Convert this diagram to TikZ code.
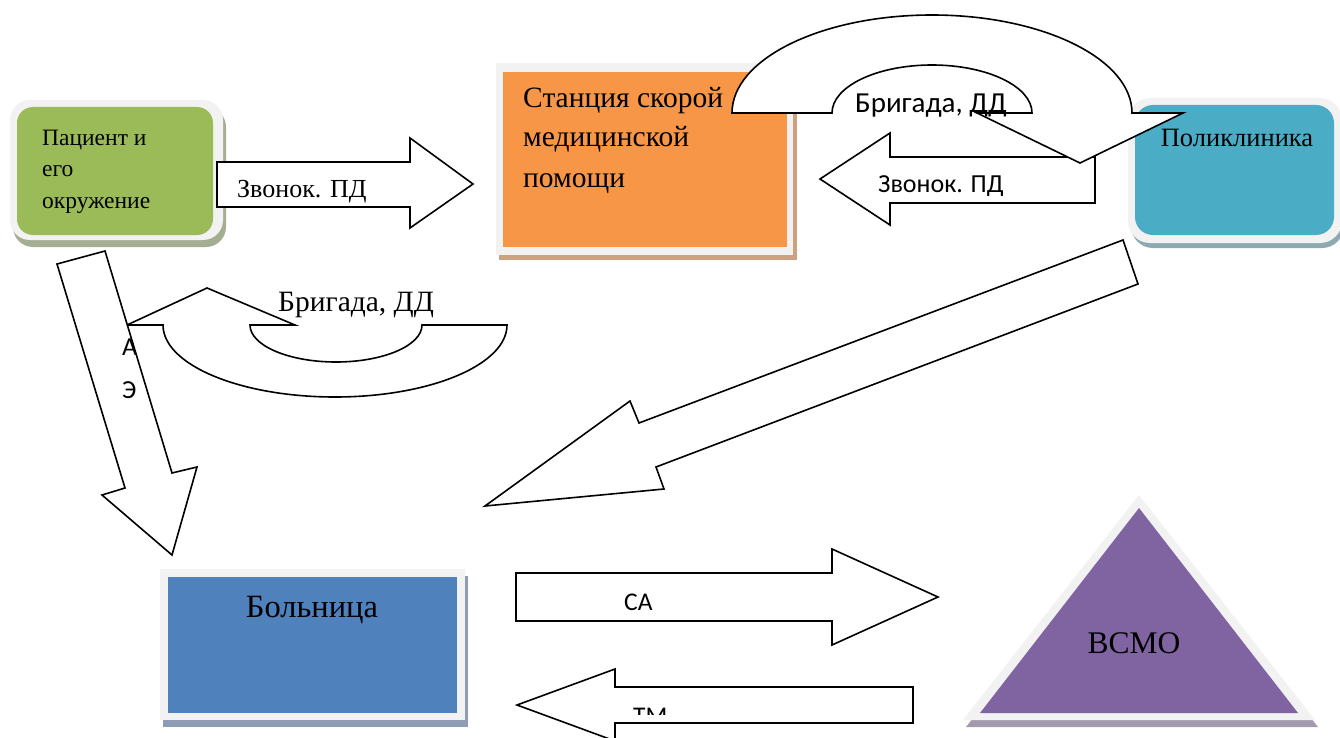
\documentclass[tikz,border=0pt]{standalone}
\usepackage{fontspec}
\setmainfont{Liberation Serif}
\newfontfamily\calibrifont{Carlito}
\usepackage{tikz}
\definecolor{frameg}{HTML}{F2F2F2}
\definecolor{patgreen}{HTML}{9BBB59}
\definecolor{patshadow}{HTML}{A5AE92}
\definecolor{ssmporange}{HTML}{F79646}
\definecolor{ssmpshadow}{HTML}{CFA27F}
\definecolor{clinicteal}{HTML}{4BACC6}
\definecolor{clinicshadow}{HTML}{8BAAB2}
\definecolor{hospblue}{HTML}{4F81BD}
\definecolor{hospshadow}{HTML}{8E9DB4}
\definecolor{vsmopurple}{HTML}{8064A2}
\definecolor{vsmoshadow}{HTML}{A39AAE}

\begin{document}
\begin{tikzpicture}[x=1pt,y=-1pt,
  every node/.style={inner sep=0pt},
  blockarrow/.style={draw=black,fill=white,line width=1.6pt,line join=miter},
  rm/.style={font=\fontsize{#1}{#1}\selectfont},
  sf/.style={font=\calibrifont\fontsize{#1}{#1}\selectfont}]
             \useasboundingbox (0,0) rectangle (1340,738);
             \clip (0,0) rectangle (1340,738);

             \fill[patshadow,rounded corners=20pt] (13,107) rectangle (226,247);
             \fill[frameg,rounded corners=20pt] (10,100) rectangle (223,240);
             \fill[patgreen,rounded corners=16pt] (17,107) rectangle (213,235);

             \fill[ssmpshadow] (499,68) rectangle (797,260);
             \fill[frameg] (496,63) rectangle (793,255);
             \fill[ssmporange] (503,72) rectangle (787,247);

             \fill[clinicshadow,rounded corners=22pt] (1131,104) rectangle (1344,248);
             \fill[frameg,rounded corners=22pt] (1128,98) rectangle (1342,243);
             \fill[clinicteal,rounded corners=18pt] (1135,105) rectangle (1334,235);

             \fill[hospshadow] (163,576) rectangle (468,727);
             \fill[frameg] (160,569) rectangle (465,720);
             \fill[hospblue] (168,577) rectangle (457,713);

             \fill[vsmoshadow] (1142,502) -- (1318,727) -- (966,727) -- cycle;
             \fill[frameg] (1139,495) -- (1315,720) -- (963,720) -- cycle;
             \fill[vsmopurple] (1139,508) -- (1298,713) -- (980,713) -- cycle;

             \node[font=\fontsize{23.5}{31.5}\selectfont,anchor=base west,align=left] (patient) at (42,208) {Пациент и\\его\\окружение};
             \node[font=\fontsize{29.5}{40}\selectfont,anchor=base west,align=left] (station) at (523,187) {Станция скорой\\медицинской\\помощи};
             \node[rm=26.5,anchor=base] (clinic) at (1237,147) {Поликлиника};
             \node[rm=32.5,anchor=base] (hospital) at (312,617) {Больница};
             \node[rm=31.5,anchor=base] (vsmo) at (1134,653) {ВСМО};

             \draw[blockarrow] (217,162) -- (410,162) -- (410,138) -- (473,184) -- (410,228) -- (410,207) -- (217,207) -- cycle;
             \draw[blockarrow] (1095,157) -- (890,157) -- (890,133) -- (820,179) -- (890,225) -- (890,203) -- (1095,203) -- cycle;
             \draw[blockarrow] (732,113) arc[start angle=180,end angle=0,x radius=200pt,y radius=98pt]
                   -- (1183,113) -- (1080,163) -- (977,113) -- (1032,113)
                   arc[start angle=0,end angle=180,x radius=100pt,y radius=48pt] -- cycle;
             \draw[blockarrow] (163,325) arc[start angle=180,end angle=360,x radius=172pt,y radius=72pt]
                   -- (422,325) arc[start angle=0,end angle=-180,x radius=86pt,y radius=37pt]
                   -- (295,325) -- (207,288) -- (127,325) -- cycle;
             \draw[blockarrow] (57,264) -- (105,251) -- (172,473) -- (197,467) -- (172,555) -- (102,495) -- (125,488) -- cycle;
             \draw[blockarrow] (1123,240) -- (639,423) -- (630,401) -- (485,506) -- (664,489) -- (656,467) -- (1138,284) -- cycle;
             \draw[blockarrow] (516,573) -- (832,573) -- (832,549) -- (938,597) -- (832,645) -- (832,621) -- (516,621) -- cycle;
             \draw[blockarrow] (913,687) -- (615,687) -- (615,669) -- (517,705) -- (615,741) -- (615,723) -- (913,723) -- cycle;

             \node[rm=26,anchor=base west] (callin) at (237,197) {Звонок. ПД};
             \node[sf=26,anchor=base west] (callout) at (878,193) {Звонок. ПД};
             \node[sf=29,anchor=base west] (crewtop) at (855,113) {Бригада, ДД};
             \node[rm=29.5,anchor=base west] (crewlow) at (278,311) {Бригада, ДД};
             \node[font=\calibrifont\fontsize{26}{43}\selectfont,anchor=base west,align=left] (ae) at (122,398) {А\\Э};
             \node[sf=25.5,anchor=base west] (sa) at (624,610) {СА};
             \begin{scope}
             \clip (600,690) rectangle (700,714);
             \node[sf=25.5,anchor=base west] (tm) at (633,724) {ТМ};
             \end{scope}
             \end{tikzpicture}
\end{document}
